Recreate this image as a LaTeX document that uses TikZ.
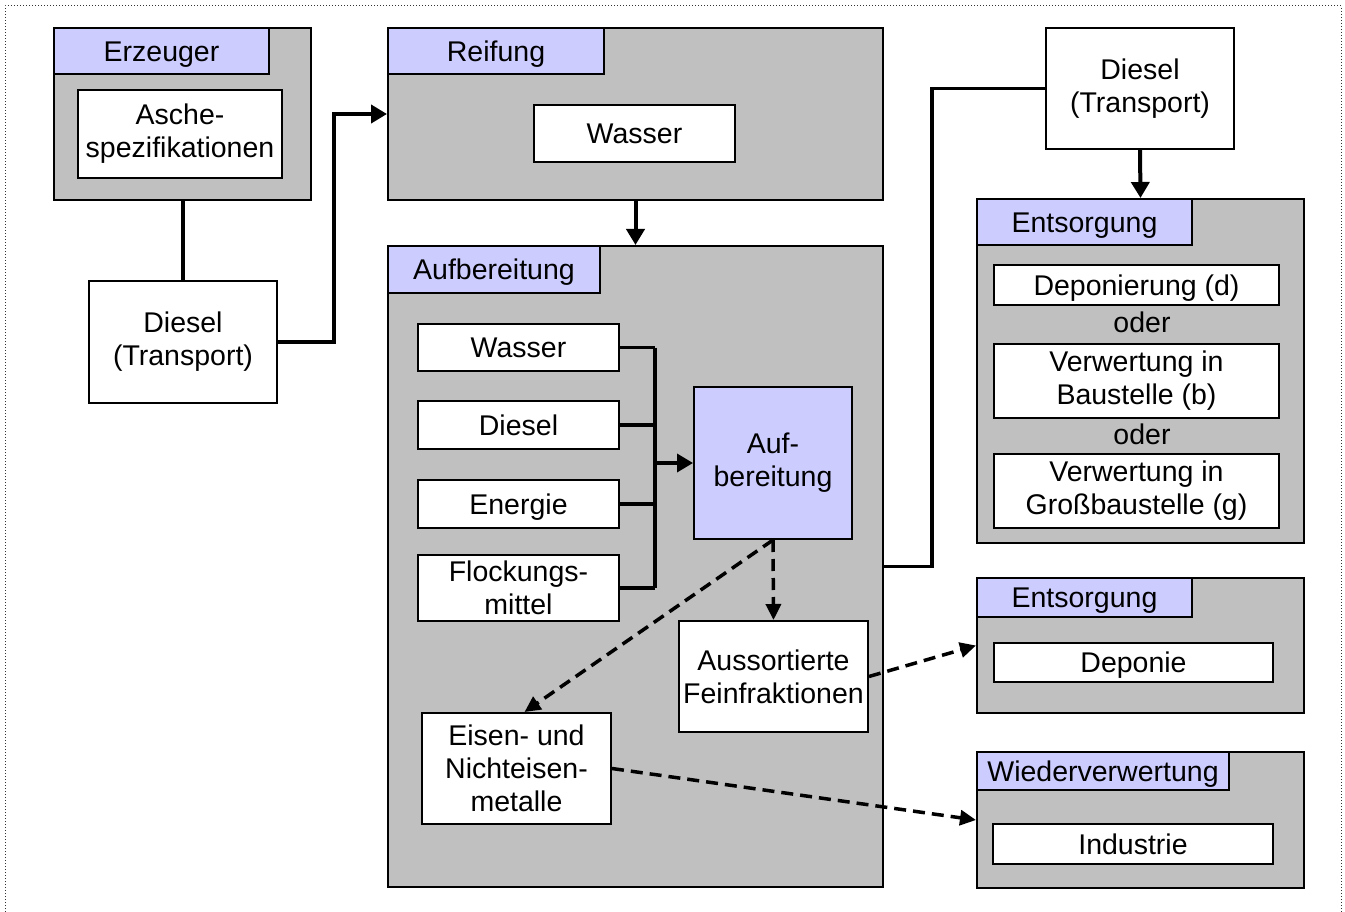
\documentclass[tikz,border=0pt]{standalone}
\usepackage{fontspec}
\setmainfont{Liberation Sans}
\usetikzlibrary{arrows.meta}
\definecolor{boxgray}{HTML}{C0C0C0}
\definecolor{lavender}{HTML}{CCCCFF}
\begin{document}
\begin{tikzpicture}[x=1pt,y=-1pt,font=\fontsize{28.5}{33}\selectfont,
                every node/.style={anchor=north west,inner sep=0pt,align=center},
                group/.style={draw,line width=2pt,fill=boxgray},
                item/.style={draw,line width=2pt,fill=white},
                proc/.style={draw,line width=2pt,fill=lavender},
                oneline/.style={text height=20.5pt,text depth=0pt},
                head/.style={proc,oneline},
                flow/.style={line width=4pt,-{Triangle[length=16pt,width=18pt]}},
                link/.style={line width=3.5pt},
                waste/.style={line width=3.5pt,dash pattern=on 12pt off 7pt,-{Triangle[length=16pt,width=15pt]}}]
                \useasboundingbox (0,0) rectangle (1345,912);
                \draw[dotted,line width=1pt,black!80] (5,912) -- (5,6) -- (1341,6) -- (1341,912);
                % Erzeuger
                \node[group,minimum width=257,minimum height=172] (erz) at (53,27) {};
                \node[head,minimum width=215,minimum height=46] (erzh) at (53,27) {Erzeuger};
                \node[item,minimum width=204,minimum height=88] (asche) at (77,89) {Asche-\\spezifikationen};
                \node[item,minimum width=188,minimum height=122] (dies1) at (88,280) {Diesel\\(Transport)};
                % Reifung
                \node[group,minimum width=495,minimum height=172] (reif) at (387,27) {};
                \node[head,minimum width=216,minimum height=46] (reifh) at (387,27) {Reifung};
                \node[item,oneline,minimum width=201,minimum height=57] (wass1) at (533,104) {Wasser};
                % Aufbereitung
                \node[group,minimum width=495,minimum height=641] (aufb) at (387,245) {};
                \node[head,minimum width=212,minimum height=47] (aufbh) at (387,245) {Aufbereitung};
                \node[item,oneline,minimum width=201,minimum height=47] (wass2) at (417,323) {Wasser};
                \node[item,oneline,minimum width=201,minimum height=48] (dies2) at (417,400) {Diesel};
                \node[item,oneline,minimum width=201,minimum height=48] (ener) at (417,479) {Energie};
                \node[item,minimum width=201,minimum height=66] (flock) at (417,554) {Flockungs-\\mittel};
                \node[proc,minimum width=158,minimum height=152] (proz) at (693,386) {Auf-\\bereitung};
                \node[item,minimum width=189,minimum height=111] (fein) at (678,620) {Aussortierte\\Feinfraktionen};
                \node[item,minimum width=189,minimum height=111] (metall) at (421,712) {Eisen- und\\Nichteisen-\\metalle};
                \coordinate (bus) at (655,463);
                % Entsorgung und Wiederverwertung
                \node[item,minimum width=188,minimum height=121] (dies3) at (1045,27) {Diesel\\(Transport)};
                \node[group,minimum width=327,minimum height=344] (ents1) at (976,198) {};
                \node[head,minimum width=215,minimum height=46] (ents1h) at (976,198) {Entsorgung};
                \node[item,oneline,minimum width=285,minimum height=40] (depon) at (993,264) {Deponierung (d)};
                \node[anchor=center,oneline] (oder1) at (1142,322) {oder};
                \node[item,minimum width=285,minimum height=74] (verwb) at (993,343) {Verwertung in\\Baustelle (b)};
                \node[anchor=center,oneline] (oder2) at (1142,434) {oder};
                \node[item,minimum width=285,minimum height=74] (verwg) at (993,453) {Verwertung in\\Großbaustelle (g)};
                \node[group,minimum width=327,minimum height=135] (ents2) at (976,577) {};
                \node[head,minimum width=215,minimum height=39] (ents2h) at (976,577) {Entsorgung};
                \node[item,oneline,minimum width=279,minimum height=39] (depo) at (993,642) {Deponie};
                \node[group,minimum width=327,minimum height=136] (wied) at (976,751) {};
                \node[head,minimum width=252,minimum height=38] (wiedh) at (976,751) {Wiederverwertung};
                \node[item,oneline,minimum width=280,minimum height=40] (indu) at (992,823) {Industrie};
                % connectors
                \draw[link] (dies1.north) -- (dies1.north |- erz.south);
                \draw[flow] (dies1.east) -- ++(56,0) |- (reif.west);
                \draw[flow] (reif.south) -- (aufb.north);
                \foreach \n in {wass2,dies2,ener,flock}
                    \draw[link] (\n.east) -- (\n.east -| bus);
                \draw[link] (wass2.east -| bus) -- (flock.east -| bus);
                \draw[flow,line width=3.5pt] (bus) -- (proz.west);
                \draw[waste] (proz.south) -- (fein.north);
                \draw[waste] (proz.south) -- ([xshift=8pt]metall.north);
                \draw[waste] (fein.east) -- (ents2.west);
                \draw[waste] (metall.east) -- (wied.west);
                \draw[link] (aufb.east) -- ++(48,0) |- (dies3.west);
                \draw[flow] (dies3.south) -- (ents1.north);
            \end{tikzpicture}
\end{document}
